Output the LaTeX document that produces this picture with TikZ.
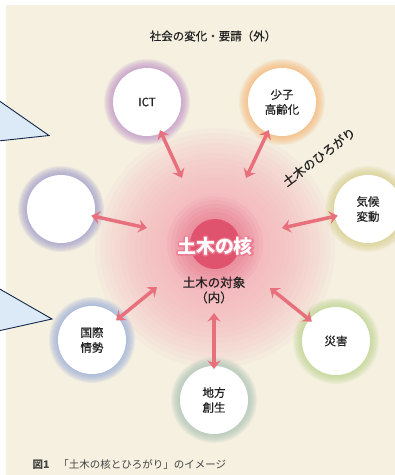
\documentclass[tikz,border=0pt]{standalone}
\usepackage{fontspec}
\setmainfont{Noto Sans CJK JP}
\newfontfamily\medfont{Noto Sans CJK JP}[FakeBold=0.5]
\usetikzlibrary{arrows.meta,calc}
\definecolor{cream}{HTML}{F5F0E0}
\definecolor{glowpink}{HTML}{F4A8B6}
\definecolor{corered}{HTML}{E0536F}
\definecolor{arrowc}{HTML}{E8707C}
\definecolor{txt}{HTML}{222222}
\definecolor{calfill}{HTML}{DCE9F6}
\definecolor{calline}{HTML}{14284B}
\definecolor{hICT}{HTML}{C094C8}
\definecolor{hAge}{HTML}{F4B878}
\definecolor{hLeft}{HTML}{A09CCC}
\definecolor{hClim}{HTML}{DAD090}
\definecolor{hIntl}{HTML}{98AEDA}
\definecolor{hDis}{HTML}{BED690}
\definecolor{hReg}{HTML}{ABC4B6}
\tikzset{
  bubble/.style={circle, fill=white, minimum size=68pt, inner sep=0pt, outer sep=0pt,
    align=center, font=\medfont\fontsize{11.5}{15}\selectfont, text=txt},
  arr/.style={draw=arrowc, line width=3.5pt,
    {Stealth[length=8.5pt,width=13pt,inset=3pt]}-{Stealth[length=8.5pt,width=13pt,inset=3pt]},
    shorten <=-3pt},
  lbl/.style={text=txt, align=center},
  coretxt/.style={font=\fontsize{19}{19}\selectfont\bfseries}
}
\newcommand{\halo}[3]{%
  \foreach \i in {1,...,9}{\fill[#3, opacity=0.13] (#1,#2) circle[radius=34+\i];}}
\begin{document}
\begin{tikzpicture}[x=1pt,y=-1pt]
\useasboundingbox (0,0) rectangle (395,475);
\fill[white] (0,0) rectangle (395,475);
\fill[cream] (6,5) rectangle (395,475);
% central pink glow
\foreach \r in {120,115,...,28}{\fill[glowpink, opacity=0.07] (215,248) circle[radius=\r];}
\foreach \r in {48,44,...,26}{\fill[corered, opacity=0.07] (215,244) circle[radius=\r];}
% halos
\halo{147}{102}{hICT}
\halo{282}{102}{hAge}
\halo{61}{209}{hLeft}
\halo{368}{209}{hClim}
\halo{92}{340}{hIntl}
\halo{336}{341}{hDis}
\halo{214}{400}{hReg}
% circles
\node[bubble] (ict) at (147,102) {ICT};
\node[bubble] (age) at (282,102) {少子\\高齢化};
\node[bubble] (blank) at (61,209) {};
\node[bubble] (clim) at (368,209) {気候\\変動};
\node[bubble] (intl) at (92,340) {国際\\情勢};
\node[bubble] (dis) at (336,341) {災害};
\node[bubble] (reg) at (214,400) {地方\\創生};
% core
\node[circle, fill=corered, minimum size=50pt, inner sep=0pt] (core) at (215,244) {};
\node[coretxt, text=arrowc!85!white] (coreline) at (215,246)
  {\special{pdf:literal direct 1 Tr 2.6 w 1 j 0.93 0.48 0.57 RG}土木の核\special{pdf:literal direct 0 Tr}};
\node[coretxt, text=white] (coretext) at (215,246) {土木の核};
\node[lbl, font=\medfont\fontsize{12.5}{15}\selectfont] (obj) at (214,290) {土木の対象\\（内）};
% arrow inner ends
\coordinate (e1) at (182,178);
\coordinate (e2) at (246,178);
\coordinate (e3) at (147,228);
\coordinate (e4) at (282,228);
\coordinate (e5) at (157,287);
\coordinate (e6) at (270,288);
\coordinate (e7) at (214,313);
\draw[arr] (ict) -- (e1);
\draw[arr] (age) -- (e2);
\draw[arr] (blank) -- (e3);
\draw[arr] (clim) -- (e4);
\draw[arr] (intl) -- (e5);
\draw[arr] (dis) -- (e6);
\draw[arr] (reg) -- (e7);
% texts
\node[lbl, font=\medfont\fontsize{11.5}{14}\selectfont] (outer) at (213,36) {社会の変化・要請（外）};
\node[lbl, font=\medfont\fontsize{12.5}{14}\selectfont, rotate=37] (spread) at (319,157) {土木のひろがり};
\node[anchor=west, text=txt!85!white, font=\fontsize{10.5}{13}\selectfont] (cap) at (29,465)
  {\textbf{図1}\hspace{9pt}「土木の核とひろがり」のイメージ};
% callouts
\fill[calfill] (-2,100) -- (49,135.5) -- (-2,141) -- cycle;
\draw[calline, line width=0.9pt, line join=miter] (-2,100) -- (49,135.5) -- (-2,141);
\fill[calfill] (-2,288) -- (52,319) -- (-2,331) -- cycle;
\draw[calline, line width=0.9pt, line join=miter] (-2,288) -- (52,319) -- (-2,331);
\end{tikzpicture}
\end{document}
